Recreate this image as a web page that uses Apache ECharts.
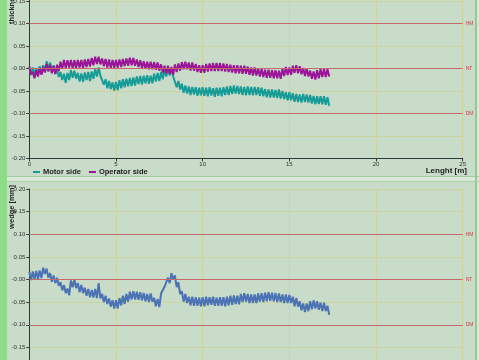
<!DOCTYPE html>
<html><head><meta charset="utf-8">
<script src="https://cdn.jsdelivr.net/npm/echarts/dist/echarts.min.js"></script>
<style>html,body{margin:0;padding:0;background:#c9dcc9;overflow:hidden}#c{width:479px;height:360px}</style>
</head><body><div id="c"></div>
<script>
// sampling step along the strip (m); values in thousandths of a mm
const STEP = 0.1;
const motorSide = [
 3,-15,2,-14,1,-13,5,-12,7,-8,
 16,-2,13,-6,7,-13,0,-19,-8,-26,
 -12,-32,-10,-26,-4,-21,-5,-23,-10,-29,
 -11,-30,-9,-26,-8,-28,-7,-23,-2,-18,
 2,-16,-16,-36,-24,-44,-28,-46,-31,-49,
 -30,-48,-26,-44,-24,-42,-23,-40,-21,-39,
 -20,-38,-18,-35,-17,-36,-16,-33,-15,-34,
 -16,-33,-12,-29,-10,-28,-8,-24,-2,-18,
 0,-16,1,-18,-18,-42,-28,-47,-34,-54,
 -38,-56,-40,-59,-41,-58,-42,-61,-43,-60,
 -42,-61,-43,-62,-42,-60,-44,-63,-43,-61,
 -43,-62,-42,-59,-40,-59,-39,-57,-38,-56,
 -39,-57,-40,-59,-41,-60,-40,-59,-41,-60,
 -41,-59,-42,-61,-43,-62,-46,-64,-47,-65,
 -47,-65,-48,-66,-47,-67,-50,-68,-53,-71,
 -53,-71,-55,-74,-57,-75,-58,-76,-57,-75,
 -58,-76,-59,-78,-61,-80,-62,-79,-62,-80,
 -62,-81,-64,-83
];
const operatorSide = [
 4,-13,-8,-22,-4,-18,0,-14,4,-9,
 10,-7,8,-11,5,-12,8,-6,15,-1,
 19,1,18,2,19,0,18,1,19,2,
 19,1,20,3,21,4,23,7,26,10,
 26,9,22,5,21,2,20,1,19,1,
 19,2,20,3,21,5,22,6,24,7,
 23,6,20,3,18,1,16,-1,15,-2,
 15,-2,14,-3,13,-5,9,-9,6,-11,
 6,-12,3,-14,9,-8,11,-5,14,-2,
 15,-2,13,-5,13,-5,10,-8,7,-10,
 7,-10,10,-7,11,-6,12,-6,12,-6,
 12,-6,11,-7,10,-8,8,-9,7,-11,
 7,-11,6,-12,6,-12,4,-14,2,-16,
 2,-16,0,-18,-1,-19,-3,-21,-3,-21,
 -4,-22,-4,-22,-5,-23,-1,-17,3,-15,
 2,-14,6,-10,7,-11,5,-13,1,-17,
 0,-18,-5,-23,-7,-25,-4,-22,-2,-19,
 -1,-19,-2,-18
];
const wedge = [
 17,-1,18,0,19,1,20,3,26,12,
 24,4,14,-5,9,-8,4,-14,-6,-24,
 -12,-30,-20,-35,-2,-17,0,-19,-8,-28,
 -12,-30,-18,-36,-21,-39,-23,-40,-21,-41,
 -8,-42,-32,-50,-36,-54,-42,-60,-46,-64,
 -46,-64,-41,-57,-36,-54,-32,-49,-27,-44,
 -26,-44,-27,-45,-28,-46,-30,-48,-32,-50,
 -31,-49,-41,-59,-43,-61,-31,-34,-16,-14,
 4,-8,14,0,9,-17,-6,-32,-26,-49,
 -32,-52,-38,-57,-38,-58,-39,-58,-40,-59,
 -39,-59,-38,-57,-39,-56,-38,-58,-40,-58,
 -39,-58,-39,-59,-38,-57,-36,-56,-35,-54,
 -36,-55,-32,-50,-30,-49,-32,-52,-33,-52,
 -33,-52,-31,-49,-30,-50,-29,-48,-28,-47,
 -29,-48,-30,-50,-31,-50,-33,-52,-33,-52,
 -34,-52,-38,-59,-41,-60,-48,-68,-53,-72,
 -53,-70,-48,-66,-46,-64,-48,-67,-51,-70,
 -51,-70,-58,-78
];
const seriesNames = ['Motor side', 'Operator side'];
const limitNames = ['HM', 'NT', 'DM'];
const limitValues = [0.10, 0.00, -0.10];
const xTicks = {min: 0, max: 25, interval: 5};
const yTicks = {min: -0.20, max: 0.20, interval: 0.05};

function pairs(arr){ return arr.map((v,i)=>[+(i*STEP).toFixed(1), v/1000]); }

const FONT = '"Liberation Sans", Arial, sans-serif';
const gridCol = '#cdd39c';
function xAx(gi, showLabels){
  return {gridIndex: gi, type:'value', min:xTicks.min, max:xTicks.max, interval:xTicks.interval,
    axisLine:{show:true, onZero:false, lineStyle:{color:'#2a3a3a', width:1}},
    axisTick:{show:true, length:3, lineStyle:{color:'#2a3a3a'}},
    axisLabel:{show:showLabels, fontSize:6, color:'#333', margin:3, fontFamily:FONT},
    splitLine:{show:true, lineStyle:{color:gridCol, width:1}}};
}
function yAx(gi){
  return {gridIndex: gi, type:'value', min:yTicks.min, max:yTicks.max, interval:yTicks.interval,
    axisLine:{show:true, onZero:false, lineStyle:{color:'#2a3a3a', width:1}},
    axisTick:{show:true, length:3, lineStyle:{color:'#2a3a3a'}},
    axisLabel:{fontSize:6, color:'#333', margin:4, fontFamily:FONT,
      formatter: v => (Math.abs(v) < 1e-9 ? '-0.00' : v.toFixed(2))},
    splitLine:{show:true, lineStyle:{color:gridCol, width:1}}};
}
const markLine = {
  silent:true, symbol:['none','none'], animation:false,
  lineStyle:{color:'#c46a6a', type:'solid', width:1},
  label:{position:'end', formatter:'{b}', color:'#b54848', fontSize:5, distance:3, fontFamily:FONT},
  data: limitValues.map((v,i)=>({yAxis:v, name:limitNames[i]}))
};

const chart = echarts.init(document.getElementById('c'), null, {renderer:'canvas'});
chart.setOption({
  animation:false,
  backgroundColor:'#c9dcc9',
  textStyle:{fontFamily:FONT},
  grid:[{left:29.3, right:16.3, top:-21.6, height:180, containLabel:false, outerBoundsMode:'none'},
        {left:29.3, right:16.3, top:189, height:181, containLabel:false, outerBoundsMode:'none'}],
  xAxis:[xAx(0,true), xAx(1,false)],
  yAxis:[yAx(0), yAx(1)],
  legend:{data:seriesNames, left:28, top:163, itemWidth:7, itemHeight:2, icon:'rect', itemGap:8,
    textStyle:{fontSize:7.5, fontWeight:'bold', color:'#222', fontFamily:FONT, padding:[0,0,0,-2]}},
  series:[
    {name:seriesNames[0], type:'line', xAxisIndex:0, yAxisIndex:0, showSymbol:false, symbol:'none',
     color:'#169b97', lineStyle:{width:2}, data:pairs(motorSide), markLine:markLine},
    {name:seriesNames[1], type:'line', xAxisIndex:0, yAxisIndex:0, showSymbol:false, symbol:'none',
     color:'#9a1597', lineStyle:{width:2}, data:pairs(operatorSide)},
    {name:'Wedge', type:'line', xAxisIndex:1, yAxisIndex:1, showSymbol:false, symbol:'none',
     color:'#4a72b4', lineStyle:{width:2}, data:pairs(wedge), markLine:markLine}
  ],
  graphic:[
    {type:'rect', left:0, top:0, shape:{width:7, height:360}, style:{fill:'#8edb8a'}, z:100},
    {type:'rect', left:7, top:176, shape:{width:472, height:5}, style:{fill:'#dce7dc'}, z:100},
    {type:'rect', left:7, top:176, shape:{width:472, height:1}, style:{fill:'#9ccf9c'}, z:101},
    {type:'rect', left:7, top:181, shape:{width:472, height:1}, style:{fill:'#a9d2a9'}, z:101},
    {type:'rect', left:475, top:0, shape:{width:2, height:360}, style:{fill:'#86d386'}, z:100},
    {type:'rect', left:477, top:0, shape:{width:2, height:360}, style:{fill:'#dce7dc'}, z:100},
    {type:'text', x:12, y:-3.6, rotation:Math.PI/2, z:100,
     style:{text:'thickness [mm]', fill:'#222', font:'bold 7.5px '+FONT, textAlign:'center', textVerticalAlign:'middle'}},
    {type:'text', x:12, y:207, rotation:Math.PI/2, z:100,
     style:{text:'wedge [mm]', fill:'#222', font:'bold 7.5px '+FONT, textAlign:'center', textVerticalAlign:'middle'}},
    {type:'text', x:467, y:171, z:100,
     style:{text:'Lenght [m]', fill:'#222', font:'bold 8px '+FONT, textAlign:'right', textVerticalAlign:'middle'}}
  ]
});
</script></body></html>
